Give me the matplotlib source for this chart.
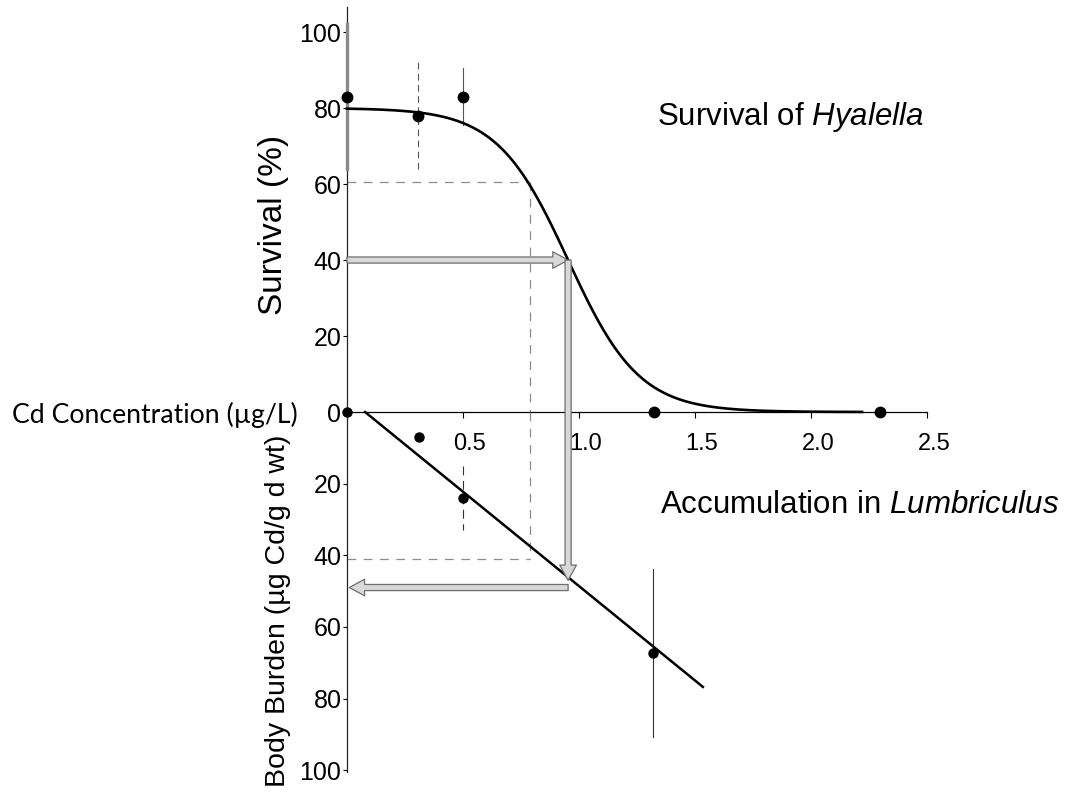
import numpy as np
import matplotlib
matplotlib.use("Agg")
import matplotlib.pyplot as plt
import matplotlib.transforms as mtransforms
from matplotlib.patches import FancyArrowPatch, ConnectionPatch

plt.rcParams["font.family"] = ["Liberation Sans", "DejaVu Sans"]
plt.rcParams["mathtext.fontset"] = "custom"
plt.rcParams["mathtext.rm"] = "Liberation Sans"
plt.rcParams["mathtext.it"] = "Liberation Sans:italic"

# ------------------------------------------------------------------ #
#  Data
# ------------------------------------------------------------------ #

# survival of Hyalella vs Cd concentration
surv_conc = [0.0, 0.306, 0.50, 1.323, 2.297]
surv_pct  = [83, 78, 83, 0, 0]
surv_err  = [19, 14, 7.5, 0, 0]

# fitted logistic curve (top, LC50, scale)
FIT_TOP   = 80.0
FIT_LC50  = 0.953
FIT_SCALE = 0.153
FIT_XMAX  = 2.22

# body burden in Lumbriculus vs Cd concentration
bb_conc = [0.0, 0.31, 0.50, 1.32]
bb_val  = [0, 7, 24, 67.3]
bb_err  = [0, 0, 9, 23.5]

# linear regression of body burden
REG_SLOPE = 52.7
REG_INTERCEPT = -4.1
REG_X = [0.078, 1.534]

# read-off guides
GUIDE_SURV   = 40       # % survival target
GUIDE_BB     = 47       # body burden hit on regression
GUIDE_BB_OUT = 49       # level of the return arrow
DASH_SURV    = 60.5
DASH_CONC    = 0.79
DASH_BB      = 41

XTICKS = [0.5, 1.0, 1.5, 2.0, 2.5]
XTICK_LABELS = ["0.5", "1.0", "1.5", "2.0", "2.5"]

# ------------------------------------------------------------------ #
#  Layout
# ------------------------------------------------------------------ #

W, H = 1072, 799
fig = plt.figure(figsize=(W / 100, H / 100), dpi=100)

def frac(x0, y0, x1, y1):
    # pixel box (top-left origin) -> figure fraction rect
    return [x0 / W, 1 - y1 / H, (x1 - x0) / W, (y1 - y0) / H]

ax_top = fig.add_axes(frac(347, 7, 927, 412))
ax_bot = fig.add_axes(frac(347, 412, 927, 772))

for ax in (ax_top, ax_bot):
    ax.set_xlim(0, 2.5)
    ax.patch.set_alpha(0)
    for side in ("top", "right"):
        ax.spines[side].set_visible(False)
    ax.spines["left"].set_linewidth(0.9)
    ax.spines["left"].set_color("#222222")
    ax.tick_params(axis="y", direction="out", length=3, width=0.8,
                   pad=1, labelsize=18)

ax_top.set_ylim(0, 106.6)
ax_top.set_yticks([0, 20, 40, 60, 80, 100])
ax_top.spines["bottom"].set_linewidth(0.9)
ax_top.set_xticks(XTICKS)
ax_top.set_xticklabels(XTICK_LABELS)
ax_top.tick_params(axis="x", direction="out", length=4, width=0.8,
                   pad=11, labelsize=17)
shift = mtransforms.ScaledTranslation(0.07, 0, fig.dpi_scale_trans)
for lab in ax_top.get_xticklabels():
    lab.set_transform(lab.get_transform() + shift)

ax_bot.set_ylim(100.5, 0)
ax_bot.set_yticks([20, 40, 60, 80, 100])
ax_bot.spines["bottom"].set_visible(False)
ax_bot.set_xticks([])

# ------------------------------------------------------------------ #
#  Survival panel
# ------------------------------------------------------------------ #

xc = np.linspace(0, FIT_XMAX, 300)
yc = FIT_TOP / (1 + np.exp((xc - FIT_LC50) / FIT_SCALE))
ax_top.plot(xc, yc, color="black", lw=1.9, clip_on=False, zorder=5)

styles = ["-", (0, (6, 4)), "-", "-", "-"]
for x, y, e, ls in zip(surv_conc, surv_pct, surv_err, styles):
    if e > 0:
        col = "#8a8a8a" if x == 0 else "#555555"
        lw = 2.4 if x == 0 else 0.8
        ax_top.plot([x, x], [y - e, y + e], color=col, lw=lw, ls=ls,
                    clip_on=False, zorder=3)
ax_top.plot(surv_conc, surv_pct, "o", color="black", ms=7.5,
            clip_on=False, zorder=6)

# dashed confidence guides
dash_kw = dict(color="#8c8c8c", lw=0.9, ls=(0, (7, 6)), clip_on=False, zorder=2)
ax_top.plot([0, DASH_CONC], [DASH_SURV, DASH_SURV], **dash_kw)
ax_top.plot([DASH_CONC, DASH_CONC], [DASH_SURV, 0], **dash_kw)
ax_bot.plot([DASH_CONC, DASH_CONC], [0, DASH_BB], **dash_kw)
ax_bot.plot([0, DASH_CONC], [DASH_BB, DASH_BB], **dash_kw)

# ------------------------------------------------------------------ #
#  Body burden panel
# ------------------------------------------------------------------ #

rx = np.array(REG_X)
ax_bot.plot(rx, REG_INTERCEPT + REG_SLOPE * rx, color="black", lw=1.8,
            clip_on=False, zorder=5)
for x, y, e in zip(bb_conc, bb_val, bb_err):
    if e > 0:
        ls = (0, (8, 5)) if e < 15 else "-"
        ax_bot.plot([x, x], [y - e, y + e], color="#333333", lw=0.8, ls=ls,
                    clip_on=False, zorder=3)
ax_bot.plot(bb_conc, bb_val, "o", color="black", ms=6.5,
            clip_on=False, zorder=6)

# ------------------------------------------------------------------ #
#  Read-off arrows
# ------------------------------------------------------------------ #

arrow_style = "simple,head_length=0.55,head_width=0.6,tail_width=0.22"
arrow_kw = dict(arrowstyle=arrow_style, mutation_scale=20, fc="#d8d8d8",
                ec="#6e6e6e", lw=0.9, zorder=4)

ax_top.add_patch(FancyArrowPatch((0, GUIDE_SURV), (FIT_LC50, GUIDE_SURV),
                                 shrinkA=0, shrinkB=0, clip_on=False,
                                 **arrow_kw))
fig.add_artist(ConnectionPatch(xyA=(FIT_LC50, GUIDE_SURV), coordsA=ax_top.transData,
                               xyB=(FIT_LC50, GUIDE_BB), coordsB=ax_bot.transData,
                               shrinkA=0, shrinkB=0, **arrow_kw))
ax_bot.add_patch(FancyArrowPatch((FIT_LC50, GUIDE_BB_OUT), (0.01, GUIDE_BB_OUT),
                                 shrinkA=0, shrinkB=0, clip_on=False,
                                 **arrow_kw))

# ------------------------------------------------------------------ #
#  Labels
# ------------------------------------------------------------------ #

fig.text(657 / W, 1 - 125 / H, r"Survival of $\mathit{Hyalella}$",
         fontsize=22.5, ha="left", va="baseline")
fig.text(660 / W, 1 - 513 / H, r"Accumulation in $\mathit{Lumbriculus}$",
         fontsize=22.5, ha="left", va="baseline")
fig.text(12 / W, 1 - 423 / H, "Cd Concentration (µg/L)", family=["Lato", "DejaVu Sans"],
         fontsize=19.2, ha="left", va="baseline")
fig.text(273 / W, 1 - 225 / H, "Survival (%)", fontsize=24,
         rotation=90, ha="center", va="center")
fig.text(278 / W, 1 - 611 / H, "Body Burden (µg Cd/g d wt)", fontsize=20.5,
         rotation=90, ha="center", va="center")

fig.savefig("out.png", dpi=100)
